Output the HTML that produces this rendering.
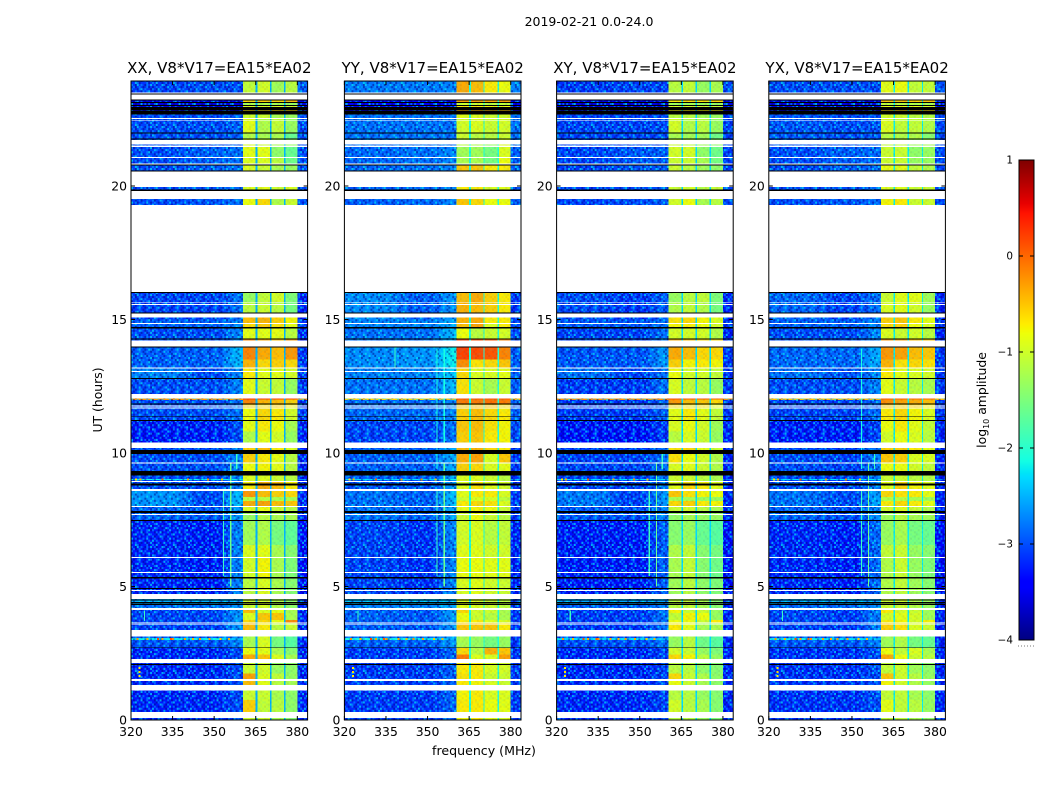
<!DOCTYPE html>
<html lang="en">
<head>
<meta charset="utf-8">
<title>2019-02-21 amplitude waterfall</title>
<style>
html,body{margin:0;padding:0;background:#fff;}
svg{display:block;font-family:"DejaVu Sans","Liberation Sans",sans-serif;fill:#000;}
</style>
</head>
<body>
<svg id="chart" xmlns="http://www.w3.org/2000/svg" width="1050" height="800" viewBox="0 0 1050 800">
  <rect x="0" y="0" width="1050" height="800" fill="#fff"/>
  <text x="589" y="26" font-size="12.5" text-anchor="middle">2019-02-21 0.0-24.0</text>
  <text x="484" y="755" font-size="12.6" text-anchor="middle">frequency (MHz)</text>
  <text x="0" y="0" font-size="12.4" text-anchor="middle" transform="translate(102,400) rotate(-90)">UT (hours)</text>
  <text x="0" y="0" font-size="12.4" text-anchor="middle" transform="translate(986,400) rotate(-90)">log<tspan font-size="8" dy="3">10</tspan><tspan dy="-3"> amplitude</tspan></text>
  <defs id="defs"></defs>
  <g id="panels"></g>
  <g id="colorbar"></g>
</svg>
<script>
// ---- categories and tick labels ----
const panelTitles = ["XX, V8*V17=EA15*EA02","YY, V8*V17=EA15*EA02","XY, V8*V17=EA15*EA02","YX, V8*V17=EA15*EA02"];
const freqTicks = [320,335,350,365,380];
const utTicks = [0,5,10,15,20];
const cbarTicks = [1,0,-1,-2,-3,-4];
const cbarTickLabels = ["1","0","\u22121","\u22122","\u22123","\u22124"];

// ---- frequency bands (MHz) ----
const baseEdges = [320,336,344,352,358,360.4];
const rightBand = [380,384];
const bandEdges = [[360.4,365],[365.6,370.1],[370.6,375.2],[375.7,380]];
const gapEdges = [[365,365.6],[370.1,370.6],[375.2,375.7]];
const gapLevel = [-2.5,-2.05,-2.3,-2.2];
const baseTrim = -0.27;

// ---- background level by UT: [320-336, 344-352, 358-360, 380-384] log10 amplitude ----
const baseStarts = [0,2.72,3.0,3.08,3.37,4.12,4.3,4.54,7.5,8.0,8.6,8.99,9.03,10.39,11.24,11.99,12.04,12.8,13.2,14.0,14.7,15.0,16.03,19.29,20.5,21.5,22.8,23.24];
const baseXX = [[-3.0,-3.0,-2.8,-3.0],[-2.75,-2.75,-2.5,-3.0],[-1.9,-1.9,-2.2,-3.0],[-2.7,-2.7,-2.5,-3.0],[-2.85,-2.85,-2.4,-3.0],[-2.6,-2.6,-2.4,-3.0],[-2.25,-2.25,-2.3,-2.9],[-3.0,-3.05,-2.5,-3.1],[-2.7,-2.75,-2.4,-3.0],[-2.4,-2.8,-2.2,-3.0],[-2.8,-2.8,-2.5,-3.0],[-1.9,-1.9,-1.9,-2.4],[-2.8,-2.8,-2.5,-3.0],[-3.05,-3.05,-2.8,-3.0],[-2.8,-2.8,-2.6,-2.9],[0,0,0,0],[-2.8,-2.8,-2.5,-2.9],[-2.5,-2.8,-2.5,-2.9],[-2.7,-2.7,-2.2,-2.9],[-2.8,-2.8,-2.5,-3.0],[-2.7,-2.7,-2.5,-2.9],[-2.85,-2.85,-2.6,-3.0],[-2.8,-2.8,-2.8,-2.9],[-2.8,-2.75,-2.6,-2.8],[-2.8,-2.7,-2.6,-2.8],[-2.8,-2.8,-2.7,-2.8],[-3.3,-3.3,-3.3,-3.3],[-2.85,-2.8,-2.8,-2.7]];
const baseYY = [[-2.9,-2.9,-2.7,-2.9],[-2.7,-2.7,-2.4,-2.9],[-1.8,-1.9,-2.2,-2.9],[-2.6,-2.6,-2.4,-2.9],[-2.7,-2.75,-2.4,-2.9],[-2.5,-2.5,-2.3,-2.9],[-2.2,-2.2,-2.2,-2.8],[-2.85,-2.95,-2.5,-3.0],[-2.6,-2.7,-2.3,-2.9],[-2.6,-2.7,-2.2,-2.9],[-2.75,-2.75,-2.4,-2.9],[-2.0,-2.0,-1.9,-2.4],[-2.7,-2.7,-2.3,-2.9],[-2.85,-2.85,-2.6,-2.8],[-2.65,-2.65,-2.5,-2.7],[-0.3,-0.3,-0.2,-0.2],[-2.6,-2.6,-2.2,-2.7],[-2.5,-2.5,-2.1,-2.7],[-2.45,-2.4,-1.9,-2.7],[-2.6,-2.6,-2.2,-2.8],[-2.5,-2.5,-2.3,-2.8],[-2.45,-2.7,-2.4,-2.9],[-2.6,-2.6,-2.6,-2.7],[-2.7,-2.65,-2.5,-2.7],[-2.65,-2.6,-2.5,-2.7],[-2.6,-2.6,-2.6,-2.6],[-3.2,-3.2,-3.2,-3.2],[-2.55,-2.55,-2.5,-2.5]];
const baseXY = [[-3.0,-3.0,-2.85,-3.0],[-2.8,-2.8,-2.6,-3.0],[-2.0,-2.0,-2.2,-3.0],[-2.75,-2.75,-2.6,-3.0],[-2.9,-2.9,-2.6,-3.0],[-2.7,-2.7,-2.5,-3.0],[-2.3,-2.3,-2.3,-2.9],[-3.05,-3.05,-2.7,-3.1],[-2.75,-2.8,-2.5,-3.0],[-2.55,-2.85,-2.4,-3.0],[-2.85,-2.85,-2.6,-3.0],[-2.0,-2.0,-2.0,-2.5],[-2.85,-2.85,-2.6,-3.0],[-3.1,-3.1,-2.9,-3.0],[-2.9,-2.9,-2.7,-2.9],[0.05,0.05,0.05,0.05],[-2.9,-2.9,-2.6,-2.9],[-2.6,-2.85,-2.6,-2.9],[-2.75,-2.75,-2.4,-2.9],[-2.85,-2.85,-2.6,-3.0],[-2.75,-2.75,-2.6,-2.9],[-2.8,-2.9,-2.7,-3.0],[-2.85,-2.85,-2.85,-2.9],[-2.85,-2.8,-2.7,-2.8],[-2.85,-2.75,-2.7,-2.85],[-2.85,-2.85,-2.8,-2.85],[-3.3,-3.3,-3.3,-3.3],[-2.9,-2.85,-2.85,-2.8]];
const baseYX = [[-2.95,-2.95,-2.8,-3.0],[-2.75,-2.75,-2.55,-3.0],[-1.9,-2.0,-2.2,-3.0],[-2.7,-2.7,-2.55,-3.0],[-2.85,-2.9,-2.55,-3.0],[-2.65,-2.65,-2.45,-3.0],[-2.3,-2.3,-2.3,-2.9],[-3.0,-3.05,-2.65,-3.1],[-2.7,-2.8,-2.45,-3.0],[-2.6,-2.8,-2.35,-3.0],[-2.8,-2.85,-2.55,-3.0],[-2.0,-2.0,-1.95,-2.5],[-2.8,-2.85,-2.55,-3.0],[-3.05,-3.05,-2.85,-3.0],[-2.85,-2.85,-2.65,-2.9],[-0.2,-0.2,-0.15,-0.15],[-2.8,-2.8,-2.5,-2.9],[-2.6,-2.75,-2.5,-2.9],[-2.65,-2.65,-2.3,-2.9],[-2.8,-2.8,-2.5,-3.0],[-2.7,-2.7,-2.5,-2.9],[-2.65,-2.85,-2.6,-3.0],[-2.8,-2.8,-2.8,-2.9],[-2.8,-2.75,-2.65,-2.8],[-2.8,-2.7,-2.65,-2.8],[-2.75,-2.8,-2.75,-2.8],[-3.3,-3.3,-3.3,-3.3],[-2.8,-2.8,-2.8,-2.75]];
const basePanels = [baseXX,baseYY,baseXY,baseYX];

// ---- 360-380 MHz sub-band level by UT: [sub-band 1..4] log10 amplitude ----
const utStarts = [0,.30,.75,1.31,1.54,1.75,2.28,2.45,2.72,3.37,3.66,3.75,4.0,4.19,4.54,5.36,6.1,6.55,7.49,7.83,8.01,8.2,8.35,8.65,8.95,9.33,9.65,10.11,10.39,10.8,11.24,11.7,11.85,12.0,12.21,12.81,13.21,13.5,14.29,14.71,14.87,15.26,15.66,16.03,19.29,19.51,19.87,20.55,20.84,21.09,21.5,21.78,22.0,22.55,22.81,22.96,23.03,23.14,23.24,23.5];
const ampXX = [[-1.0,-1.0,-1.2,-1.4],[-.55,-1.05,-1.1,-1.35],[-1.0,-1.0,-1.2,-1.35],[-.45,-.85,-1.1,-1.2],[-.3,-.9,-1.05,-1.3],[-1.0,-.95,-1.3,-1.35],[-.35,-.5,-.9,-1.2],[-.8,-.85,-1.2,-1.4],[-1.2,-.9,-1.5,-1.7],[-.45,-.7,-1.1,-1.0],[-.6,-.6,-.8,-.2],[-.9,-.5,-.5,-1.2],[-.45,-.9,-.85,-1.2],[-1.0,-.95,-1.15,-1.35],[-1.1,-.9,-1.2,-1.4],[-.95,-.75,-1.2,-1.45],[-.9,-.85,-1.2,-1.4],[-1.25,-1.15,-1.5,-1.65],[-1.3,-1.1,-1.2,-1.2],[-.9,-.8,-1.0,-1.1],[-.35,-.3,-.45,-.5],[-1.1,-1.1,-1.2,-1.2],[-.25,-.45,-.55,-.6],[-.7,-.35,-.45,-.7],[-.9,-.9,-1.0,-1.1],[-.8,-.75,-.85,-1.1],[-.55,-.7,-.85,-1.1],[-.55,-.45,-.7,-.9],[-1.15,-.85,-.95,-1.3],[-.85,-.7,-.8,-1.2],[-.8,-.6,-.7,-.95],[-.55,-.6,-.55,-.7],[-.15,-.4,-.45,-.55],[.25,.25,.2,.2],[-.85,-1.0,-1.05,-1.3],[-.7,-.85,-.85,-.95],[-.4,-.6,-.55,-.6],[-.15,-.35,-.45,-.25],[-.85,-.85,-.85,-1.1],[-.6,-.5,-.65,-.85],[-.45,-.4,-.55,-.75],[-1.1,-1.0,-1.1,-1.5],[-1.3,-1.05,-.95,-1.45],[-1.0,-1.0,-1.0,-1.0],[-.8,-.6,-1.15,-1.0],[-.9,-.85,-1.0,-.9],[-.9,-.85,-1.0,-.9],[-.9,-1.0,-1.2,-1.3],[-.9,-.9,-1.1,-1.55],[-.85,-.85,-1.35,-1.6],[-.9,-1.0,-1.2,-1.3],[-1.15,-1.2,-1.2,-1.6],[-.85,-1.15,-1.05,-1.3],[-1.0,-1.0,-1.2,-1.3],[-.65,-.65,-.65,-.65],[-.9,-.9,-.9,-1.0],[-1.2,-1.2,-1.25,-1.3],[-.6,-.55,-.6,-.45],[-.6,-.55,-.6,-.45],[-1.05,-.95,-1.25,-1.1]];
const ampYY = [[-.75,-.7,-.85,-.9],[-.7,-.7,-.8,-.85],[-.75,-.7,-.9,-.9],[-.7,-.75,-.9,-1.0],[-.65,-.7,-1.0,-1.0],[-.7,-.7,-.9,-.95],[-.1,-.9,-.9,-.3],[-.6,-1.1,-.4,-.5],[-1.2,-1.3,-1.5,-1.3],[-.5,-.5,-.5,-.7],[-.7,-.7,-.9,-.9],[-.8,-1.0,-1.1,-1.2],[-.6,-.95,-1.0,-1.2],[-.85,-.9,-1.0,-1.1],[-.9,-.85,-.95,-1.0],[-.8,-.8,-.85,-.85],[-.85,-.85,-.95,-.95],[-.95,-.9,-1.1,-1.05],[-1.0,-.8,-1.0,-1.1],[-.8,-.75,-.8,-1.0],[-.7,-.6,-.65,-.9],[-1.0,-.9,-.9,-1.1],[-.85,-.7,-.7,-.9],[-.9,-.65,-.85,-.95],[-.9,-.9,-1.0,-1.1],[-.55,-.6,-.9,-.85],[-.35,-.3,-.9,-.5],[-.45,-.4,-.6,-.7],[-.55,-.5,-.7,-.75],[-.5,-.45,-.65,-.75],[-.55,-.45,-.6,-.7],[-.5,-.45,-.45,-.6],[-.1,-.1,-.05,-.1],[.1,.1,.1,.1],[-.65,-1.0,-1.2,-1.0],[-.6,-.9,-.9,-.85],[-.2,-.65,-.6,-.5],[.2,.15,.1,-.15],[-.8,-1.1,-1.0,-.95],[-.45,-.3,-.9,-.7],[-.4,-.35,-.7,-.7],[-.4,-.45,-.55,-.7],[-.45,-.35,-.55,-.7],[-1.0,-1.0,-1.0,-1.0],[-.5,-.6,-.8,-.8],[-.7,-.7,-.9,-.9],[-.7,-.7,-.9,-.9],[-.5,-.5,-.7,-.7],[-1.2,-1.2,-1.5,-.8],[-1.25,-1.25,-1.5,-.9],[-1.1,-1.15,-1.3,-.9],[-1.0,-1.1,-1.1,-1.0],[-.95,-.9,-1.0,-.95],[-.85,-.9,-1.0,-.95],[-.45,-.45,-.45,-.5],[-.7,-.7,-.75,-.8],[-1.0,-1.0,-1.1,-1.1],[-.3,-.3,-.35,-.3],[-.3,-.3,-.35,-.3],[-.35,-.45,-.7,-.8]];
const ampXY = [[-1.1,-1.1,-1.3,-1.45],[-.95,-1.1,-1.2,-1.4],[-1.1,-1.1,-1.3,-1.4],[-.8,-1.0,-1.2,-1.35],[-.6,-1.0,-1.15,-1.35],[-1.1,-1.1,-1.35,-1.4],[-.6,-.75,-1.1,-1.3],[-.95,-1.0,-1.3,-1.45],[-1.3,-1.1,-1.55,-1.7],[-.7,-.85,-1.2,-1.2],[-.8,-.8,-1.0,-.7],[-1.05,-.75,-.8,-1.3],[-.75,-1.0,-1.0,-1.3],[-1.1,-1.05,-1.2,-1.4],[-1.25,-1.1,-1.35,-1.45],[-1.2,-1.05,-1.4,-1.55],[-1.15,-1.05,-1.4,-1.5],[-1.4,-1.3,-1.6,-1.7],[-1.35,-1.2,-1.3,-1.3],[-1.0,-.95,-1.1,-1.2],[-.6,-.55,-.7,-.75],[-1.2,-1.2,-1.3,-1.3],[-.5,-.65,-.75,-.8],[-.85,-.6,-.7,-.85],[-1.0,-1.0,-1.1,-1.2],[-.9,-.85,-1.0,-1.15],[-.65,-.8,-.95,-1.15],[-.65,-.6,-.85,-1.0],[-1.1,-.9,-1.0,-1.3],[-.9,-.8,-.95,-1.25],[-.85,-.7,-.85,-1.05],[-.6,-.65,-.65,-.8],[-.25,-.45,-.5,-.6],[.15,.1,.1,.05],[-.9,-1.05,-1.1,-1.3],[-.8,-.95,-.95,-1.05],[-.55,-.75,-.7,-.75],[-.35,-.45,-.6,-.6],[-.95,-.95,-.95,-1.15],[-.75,-.7,-.8,-.95],[-.65,-.6,-.75,-.9],[-1.15,-1.05,-1.15,-1.5],[-1.3,-1.1,-1.05,-1.45],[-1.1,-1.1,-1.1,-1.1],[-.95,-.8,-1.2,-1.1],[-1.0,-.95,-1.1,-1.0],[-1.0,-.95,-1.1,-1.0],[-1.0,-1.1,-1.25,-1.35],[-1.0,-1.0,-1.2,-1.5],[-.95,-.95,-1.35,-1.55],[-1.0,-1.1,-1.25,-1.35],[-1.2,-1.25,-1.25,-1.55],[-.95,-1.15,-1.1,-1.3],[-1.1,-1.1,-1.25,-1.3],[-.75,-.75,-.75,-.75],[-.95,-.95,-1.0,-1.05],[-1.25,-1.25,-1.3,-1.3],[-.7,-.65,-.7,-.6],[-.7,-.65,-.7,-.6],[-1.1,-1.05,-1.3,-1.2]];
const ampYX = [[-1.05,-1.05,-1.2,-1.35],[-.85,-1.05,-1.1,-1.3],[-1.05,-1.05,-1.2,-1.35],[-.75,-.95,-1.15,-1.3],[-.5,-.95,-1.1,-1.3],[-1.05,-1.0,-1.25,-1.35],[-.35,-.8,-1.0,-1.1],[-.8,-1.05,-.9,-1.2],[-1.25,-1.15,-1.5,-1.6],[-.55,-.65,-.9,-1.0],[-.7,-.75,-.95,-.75],[-.95,-.85,-.95,-1.25],[-.7,-.95,-1.0,-1.25],[-1.0,-1.0,-1.15,-1.3],[-1.15,-1.05,-1.25,-1.4],[-1.15,-1.0,-1.3,-1.45],[-1.05,-1.0,-1.3,-1.4],[-1.3,-1.2,-1.5,-1.6],[-1.25,-1.1,-1.2,-1.25],[-.95,-.85,-1.0,-1.15],[-.7,-.6,-.7,-.85],[-1.15,-1.1,-1.2,-1.25],[-.6,-.65,-.7,-.85],[-.85,-.55,-.75,-.85],[-1.0,-1.0,-1.1,-1.15],[-.8,-.8,-.95,-1.05],[-.5,-.55,-.9,-.9],[-.55,-.55,-.7,-.85],[-.95,-.8,-.9,-1.1],[-.8,-.7,-.85,-1.05],[-.7,-.6,-.75,-.9],[-.5,-.55,-.55,-.7],[-.2,-.3,-.35,-.45],[.05,.05,0,0],[-.85,-1.0,-1.1,-1.2],[-.7,-.85,-.9,-.95],[-.4,-.65,-.6,-.65],[-.25,-.3,-.45,-.5],[-.9,-1.0,-.95,-1.1],[-.6,-.55,-.8,-.9],[-.55,-.5,-.7,-.85],[-.9,-.85,-.95,-1.3],[-1.0,-.85,-.85,-1.25],[-1.0,-1.0,-1.0,-1.0],[-.75,-.7,-1.0,-1.0],[-.9,-.85,-1.0,-1.0],[-.9,-.85,-1.0,-1.0],[-.8,-.85,-1.05,-1.15],[-1.0,-1.0,-1.3,-1.3],[-1.0,-1.0,-1.35,-1.3],[-1.05,-1.05,-1.25,-1.2],[-1.1,-1.15,-1.15,-1.4],[-.9,-1.05,-1.05,-1.15],[-.95,-1.0,-1.1,-1.15],[-.6,-.6,-.6,-.65],[-.85,-.85,-.85,-.95],[-1.1,-1.1,-1.15,-1.2],[-.5,-.5,-.55,-.5],[-.5,-.5,-.55,-.5],[-.85,-.8,-1.05,-1.05]];
const ampPanels = [ampXX,ampYY,ampXY,ampYX];

// ---- flagged time ranges (UT hours): blank ----
const blankStart = [.07,1.11,1.46,2.13,3.12,3.55,3.62,4.12,4.54,4.83,5.51,6.07,7.68,7.98,8.58,8.91,9.61,10.18,11.66,11.75,12.04,13.03,13.17,13.98,14.83,15.07,15.55,15.63,16.03,19.51,19.96,20.81,21.05,21.46,21.55,22.45,22.51,23.24,23.47];
const blankEnd = [.30,1.31,1.54,2.28,3.37,3.58,3.66,4.19,4.72,4.87,5.54,6.10,7.72,8.01,8.65,8.95,9.65,10.39,11.70,11.78,12.21,13.07,13.21,14.22,14.87,15.22,15.59,15.66,19.29,19.82,20.55,20.84,21.09,21.52,21.72,22.48,22.55,23.42,23.50];
// ---- flagged time ranges (UT hours): zero amplitude ----
const zeroStart = [2.06,2.69,4.30,4.37,4.47,4.91,5.30,7.45,7.75,8.79,9.15,9.96,11.20,11.34,11.82,12.77,13.95,14.25,14.66,15.23,15.99,19.82,20.55,20.77,21.74,21.97,22.68,22.83,23.0,23.11,23.2,23.42];
const zeroEnd = [2.10,2.72,4.34,4.42,4.51,4.94,5.36,7.49,7.83,8.86,9.33,10.11,11.24,11.37,11.85,12.81,13.98,14.29,14.71,15.26,16.03,19.87,20.58,20.81,21.78,22.0,22.81,22.96,23.03,23.14,23.24,23.46];

// ---- narrow interference: frequency (MHz), UT start, UT end, level ----
const rfiFreq = [353.2,355.8,357.9,324.7,353.2,355.8,338.0];
const rfiStart = [5.4,5.0,9.4,3.7,9.4,10.4,13.2];
const rfiEnd = [8.6,9.6,10.0,4.1,13.9,13.9,14.0];
const rfiLevel = [-1.9,-1.6,-1.9,-1.9,-2.1,-2.1,-1.9];
const rfiPanelFlag = [[1,1,1,1,0,0,0],[1,1,0,1,1,1,1],[1,1,1,1,0,0,0],[1,1,1,1,1,0,0]];
// ---- isolated spikes: frequency, UT, level ----
const spikeFreq = [322.0,325.5,329.3,331.0,334.8,339.1,342.0,344.5,348.0,352.0,355.0,323.0,331.0,340.2,347.5,352.5,322.7,322.7,322.7,321.5,334.0];
const spikeUT = [3.04,3.04,3.04,3.04,3.04,3.04,3.04,3.04,3.04,3.04,3.04,9.01,9.01,9.01,9.01,9.01,1.95,1.8,1.65,9.01,3.04];
const spikeLevel = [-.2,-.4,.2,-.3,-.2,-.3,-.4,-.2,-.3,-.5,-.4,-.4,.1,-.3,-.2,-.5,-.7,-.6,-.7,-.7,.1];

// ---- visible grain of the channels, read as a repeating swatch ----
// 0 none, 1 lighter, 2 bright, 3 dark
const grainRows = [
"01300213010320103102",
"30101030201301030130",
"10320103010031201003",
"03011300130100310120",
"21003012003102003013",
"01030100210301130100",
"30120301003012003021",
"00103020130001030103",
"13001301003120103000",
"01200030120300201310",
"30013100013010300102",
"02100302100132010030",
"10030013020003100123",
"03102300103010230100",
"00310010301200013021",
"13002103100301300100",
"01030130020130010203",
"20100003103002103010",
"03013020010100301302",
"10200301300213000130"];

// ---- layout ----
const panelLeft = [131,344.4,556.6,768.8];
const panelWidth = 176.6;
const panelTop = 81;
const panelBottom = 720;
const pxPerMHz = 2.772;
const pxPerHour = 26.7;
const cbarLeft = 1019, cbarWidth = 15, cbarTop = 160, cbarBottom = 640, cbarMin = -4, cbarMax = 1;
const grainW = 1.9, grainH = 2.1;
const SVGNS = "http://www.w3.org/2000/svg";

function xScale(panel, mhz){ return panelLeft[panel] + (mhz - 320) * pxPerMHz; }
function yScale(hour){ return panelBottom - hour * pxPerHour; }
function cbarY(v){ return cbarBottom - (v - cbarMin) / (cbarMax - cbarMin) * (cbarBottom - cbarTop); }

function lerpTable(t, table){
  for (let i = 1; i < table.length; i++){
    if (t <= table[i][0]){
      const a = table[i-1], b = table[i];
      return a[1] + (b[1]-a[1]) * (t-a[0]) / (b[0]-a[0]);
    }
  }
  return table[table.length-1][1];
}
const jetR = [[0,0],[.35,0],[.66,1],[.89,1],[1,.5]];
const jetG = [[0,0],[.125,0],[.375,1],[.64,1],[.91,0],[1,0]];
const jetB = [[0,.5],[.11,1],[.34,1],[.65,0],[1,0]];
function jet(level){
  const t = Math.max(0, Math.min(1, (level - cbarMin) / (cbarMax - cbarMin)));
  const c = [jetR,jetG,jetB].map(tb => Math.round(255 * lerpTable(t, tb)));
  return "rgb(" + c.join(",") + ")";
}
function make(tag, parent){
  const el = document.createElementNS(SVGNS, tag);
  parent.appendChild(el);
  return el;
}
function setRect(el, x, y, w, h, fill){
  el.setAttribute("x", x.toFixed(2));
  el.setAttribute("y", y.toFixed(2));
  el.setAttribute("width", w.toFixed(2));
  el.setAttribute("height", Math.max(h, 0).toFixed(2));
  el.setAttribute("fill", fill);
}

// grain pattern
const defs = document.getElementById("defs");
const grainPattern = make("pattern", defs);
grainPattern.setAttribute("id", "grain");
grainPattern.setAttribute("patternUnits", "userSpaceOnUse");
grainPattern.setAttribute("width", (grainW * 20).toFixed(2));
grainPattern.setAttribute("height", (grainH * 20).toFixed(2));


const grainFill = {"1":["rgb(0,170,255)",.55],"2":["rgb(0,235,240)",.7],"3":["rgb(0,0,120)",.45]};
grainRows.forEach((row, r) => {
  for (let c = 0; c < row.length; c++){
    const style = grainFill[row[c]];
    if (!style) continue;
    const cell = make("rect", grainPattern);
    
    
    setRect(cell, c * grainW, r * grainH, grainW, grainH, style[0]);
    cell.setAttribute("fill-opacity", style[1]);
  }
});

// panels
const panelsGroup = document.getElementById("panels");
const utEnd = 23.93;
panelTitles.forEach((title, p) => {
  const g = make("g", panelsGroup);
  
  

  const clip = make("clipPath", defs);
  clip.setAttribute("id", "clip" + p);
  const clipRect = make("rect", clip);
  setRect(clipRect, panelLeft[p], panelTop, panelWidth, panelBottom - panelTop, "#000");

  const heat = make("g", g);
  
  
  heat.setAttribute("clip-path", "url(#clip" + p + ")");
  heat.setAttribute("shape-rendering", "crispEdges");

  // background zones with soft colour ramps between them
  baseStarts.forEach((start, r) => {
    const end = r + 1 < baseStarts.length ? baseStarts[r+1] : utEnd;
    const levels = basePanels[p][r];
    const yTop = yScale(end), h = yScale(start) - yTop;
    const rampSteps = 5;
    [[0,0],[0,1],[1,1],[1,2],[2,2]].forEach((pair, z) => {
      const steps = pair[0] === pair[1] ? 1 : rampSteps;
      for (let s = 0; s < steps; s++){
        const f0 = baseEdges[z] + (baseEdges[z+1] - baseEdges[z]) * s / steps;
        const f1 = baseEdges[z] + (baseEdges[z+1] - baseEdges[z]) * (s + 1) / steps;
        const lv = levels[pair[0]] + (levels[pair[1]] - levels[pair[0]]) * (s + .5) / steps + baseTrim;
        const cell = make("rect", heat);
        
        
        setRect(cell, xScale(p, f0), yTop, (f1 - f0) * pxPerMHz + .5, h, jet(lv));
      }
    });
    const rx0 = xScale(p, rightBand[0]), rx1 = xScale(p, rightBand[1]);
    const right = make("rect", heat);
    
    
    setRect(right, rx0, yTop, rx1 - rx0, h, jet(levels[3] + baseTrim));
  });

  // gaps between sub-bands
  gapEdges.forEach(edge => {
    const x0 = xScale(p, edge[0]), x1 = xScale(p, edge[1]);
    const gap = make("rect", heat);
    
    
    setRect(gap, x0, panelTop, x1 - x0, panelBottom - panelTop, jet(gapLevel[p]));
  });

  // sub-band cells
  utStarts.forEach((start, r) => {
    const end = r + 1 < utStarts.length ? utStarts[r+1] : utEnd;
    const yTop = yScale(end), h = yScale(start) - yTop;
    ampPanels[p][r].forEach((level, b) => {
      const x0 = xScale(p, bandEdges[b][0]), x1 = xScale(p, bandEdges[b][1]);
      const cell = make("rect", heat);
      
      
      setRect(cell, x0, yTop, x1 - x0, h, jet(level));
    });
  });

  // grain over the channels
  const grainA = make("rect", heat);
  
  
  setRect(grainA, xScale(p, 320), panelTop, xScale(p, 360.4) - xScale(p, 320), panelBottom - panelTop, "url(#grain)");
  const grainB = make("rect", heat);
  
  
  setRect(grainB, xScale(p, rightBand[0]), panelTop, xScale(p, rightBand[1]) - xScale(p, rightBand[0]), panelBottom - panelTop, "url(#grain)");
  const grainC = make("rect", heat);
  
  
  setRect(grainC, xScale(p, 360.4), panelTop, xScale(p, 380) - xScale(p, 360.4), panelBottom - panelTop, "url(#grain)");
  grainC.setAttribute("opacity", ".16");

  // narrow interference
  rfiFreq.forEach((f, i) => {
    if (!rfiPanelFlag[p][i]) return;
    const yTop = yScale(rfiEnd[i]);
    const line = make("rect", heat);
    
    
    setRect(line, xScale(p, f), yTop, 1.2, yScale(rfiStart[i]) - yTop, jet(rfiLevel[i]));
  });
  spikeFreq.forEach((f, i) => {
    const spike = make("rect", heat);
    
    
    setRect(spike, xScale(p, f), yScale(spikeUT[i]) - 1, 2, 2, jet(spikeLevel[i]));
  });

  // flags
  blankStart.forEach((start, i) => {
    const yTop = yScale(blankEnd[i]);
    const row = make("rect", heat);
    
    
    setRect(row, panelLeft[p], yTop, panelWidth, yScale(start) - yTop, "#fff");
  });
  zeroStart.forEach((start, i) => {
    const yTop = yScale(zeroEnd[i]);
    const row = make("rect", heat);
    
    
    setRect(row, panelLeft[p], yTop, panelWidth, yScale(start) - yTop, "#000");
  });

  // frame
  const frame = make("rect", g);
  
  
  setRect(frame, panelLeft[p], panelTop, panelWidth, panelBottom - panelTop, "none");
  frame.setAttribute("stroke", "#000");
  frame.setAttribute("stroke-width", "1");

  // title
  const t = make("text", g);
  
  
  t.setAttribute("x", (panelLeft[p] + panelWidth / 2).toFixed(1));
  t.setAttribute("y", "73");
  t.setAttribute("font-size", "15");
  t.setAttribute("text-anchor", "middle");
  t.textContent = title;

  // x ticks
  freqTicks.forEach(f => {
    const x = xScale(p, f);
    const tb = make("line", g);
    
    
    tb.setAttribute("x1", x); tb.setAttribute("x2", x);
    tb.setAttribute("y1", panelBottom); tb.setAttribute("y2", panelBottom - 4);
    tb.setAttribute("stroke", "#000");
    const tt = make("line", g);
    
    
    tt.setAttribute("x1", x); tt.setAttribute("x2", x);
    tt.setAttribute("y1", panelTop); tt.setAttribute("y2", panelTop + 4);
    tt.setAttribute("stroke", "#000");
    const label = make("text", g);
    
    
    label.setAttribute("x", x.toFixed(1));
    label.setAttribute("y", "736");
    label.setAttribute("font-size", "12.4");
    label.setAttribute("text-anchor", "middle");
    label.textContent = f;
  });

  // y ticks
  utTicks.forEach(u => {
    const y = yScale(u);
    const tl = make("line", g);
    
    
    tl.setAttribute("x1", panelLeft[p]); tl.setAttribute("x2", panelLeft[p] + 4);
    tl.setAttribute("y1", y); tl.setAttribute("y2", y);
    tl.setAttribute("stroke", "#000");
    const tr = make("line", g);
    
    
    tr.setAttribute("x1", panelLeft[p] + panelWidth); tr.setAttribute("x2", panelLeft[p] + panelWidth - 4);
    tr.setAttribute("y1", y); tr.setAttribute("y2", y);
    tr.setAttribute("stroke", "#000");
    const label = make("text", g);
    
    
    label.setAttribute("x", (panelLeft[p] - 4).toFixed(1));
    label.setAttribute("y", (y + 4.5).toFixed(1));
    label.setAttribute("font-size", "12.4");
    label.setAttribute("text-anchor", "end");
    label.textContent = u;
  });
});

// colorbar
const cb = document.getElementById("colorbar");
const cbSteps = 240;
for (let i = 0; i < cbSteps; i++){
  const v0 = cbarMin + (cbarMax - cbarMin) * i / cbSteps;
  const v1 = cbarMin + (cbarMax - cbarMin) * (i + 1) / cbSteps;
  const seg = make("rect", cb);
  
  
  seg.setAttribute("shape-rendering", "crispEdges");
  setRect(seg, cbarLeft, cbarY(v1), cbarWidth, cbarY(v0) - cbarY(v1) + .5, jet((v0 + v1) / 2));
}
const cbFrame = make("rect", cb);


setRect(cbFrame, cbarLeft, cbarTop, cbarWidth, cbarBottom - cbarTop, "none");
cbFrame.setAttribute("stroke", "#000");
cbFrame.setAttribute("stroke-width", "1");
cbarTicks.forEach((v, i) => {
  const y = cbarY(v);
  const a = make("line", cb);
  
  
  a.setAttribute("x1", cbarLeft); a.setAttribute("x2", cbarLeft + 4);
  a.setAttribute("y1", y); a.setAttribute("y2", y);
  a.setAttribute("stroke", "#000");
  const b = make("line", cb);
  
  
  b.setAttribute("x1", cbarLeft + cbarWidth); b.setAttribute("x2", cbarLeft + cbarWidth - 4);
  b.setAttribute("y1", y); b.setAttribute("y2", y);
  b.setAttribute("stroke", "#000");
  const label = make("text", cb);
  
  
  label.setAttribute("x", cbarLeft - 6);
  label.setAttribute("y", (y + 3.5).toFixed(1));
  label.setAttribute("font-size", "10.4");
  label.setAttribute("text-anchor", "end");
  label.textContent = cbarTickLabels[i];
});
const dots = make("line", cb);


dots.setAttribute("x1", cbarLeft - 1); dots.setAttribute("x2", cbarLeft + cbarWidth + 1);
dots.setAttribute("y1", "646"); dots.setAttribute("y2", "646");
dots.setAttribute("stroke", "#777");
dots.setAttribute("stroke-dasharray", "1 2");
</script>
</body>
</html>
